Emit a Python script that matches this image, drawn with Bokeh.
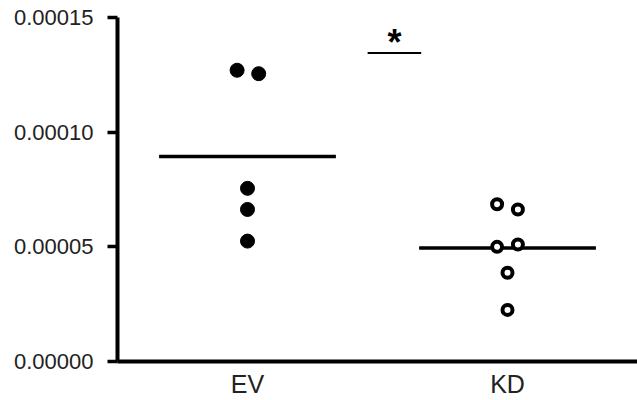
from bokeh.plotting import figure
from bokeh.models import FixedTicker, PrintfTickFormatter, ColumnDataSource
from bokeh.core.properties import value
from bokeh.embed import file_html
from bokeh.resources import INLINE

# ---- data ----
categories = ["EV", "KD"]
ev_values = [0.0001270, 0.0001255, 0.0000755, 0.0000663, 0.0000525]
ev_jitter = [-0.04, 0.043, 0.0, 0.0, 0.0]
kd_values = [0.0000686, 0.0000663, 0.0000500, 0.0000510, 0.0000387, 0.0000225]
kd_jitter = [-0.04, 0.04, -0.04, 0.04, 0.0, 0.0]
y_ticks = [0.0, 0.00005, 0.00010, 0.00015]
sig_bar_x = [1.462, 1.668]
sig_bar_y = 0.0001345
sig_label = "*"

ev_mean = sum(ev_values) / len(ev_values)
kd_mean = sum(kd_values) / len(kd_values)

FONT = "Liberation Sans"

p = figure(width=637, height=400, x_range=(0.5, 2.5), y_range=(0, 0.00015),
           output_backend="svg", toolbar_location=None,
           min_border_left=117, min_border_right=0, min_border_top=17, min_border_bottom=38)
p.outline_line_color = None
p.grid.grid_line_color = None
p.background_fill_color = "white"
p.border_fill_color = "white"

# axes
p.yaxis.ticker = FixedTicker(ticks=y_ticks)
p.yaxis.formatter = PrintfTickFormatter(format="%.5f")
p.xaxis.ticker = FixedTicker(ticks=[1, 2])
p.xaxis.major_label_overrides = {1: categories[0], 2: categories[1]}
for ax in (p.xaxis, p.yaxis):
    ax.axis_line_width = 4
    ax.axis_line_color = "black"
    ax.major_label_text_font = FONT
    ax.major_label_text_color = "#222222"
    ax.minor_tick_line_color = None
p.yaxis.major_label_text_font_size = "22px"
p.xaxis.major_label_text_font_size = "25px"
p.yaxis.major_tick_line_width = 3.5
p.yaxis.major_tick_out = 10
p.yaxis.major_tick_in = 0
p.yaxis.major_label_standoff = 14
p.xaxis.major_tick_line_color = None
p.xaxis.major_label_standoff = 2

# means
p.segment(x0=[1 - 0.34, 2 - 0.34], x1=[1 + 0.34, 2 + 0.34],
          y0=[ev_mean, kd_mean], y1=[ev_mean, kd_mean],
          line_color="black", line_width=3.5)

# points
ev_src = ColumnDataSource(dict(x=[1 + j for j in ev_jitter], y=ev_values))
kd_src = ColumnDataSource(dict(x=[2 + j for j in kd_jitter], y=kd_values))
p.scatter("x", "y", source=ev_src, size=14, fill_color="black", line_color="black", line_width=1)
p.scatter("x", "y", source=kd_src, size=10, fill_color="white", line_color="black", line_width=4)

# significance
p.segment(x0=[sig_bar_x[0]], x1=[sig_bar_x[1]], y0=[sig_bar_y], y1=[sig_bar_y],
          line_color="black", line_width=2)
p.text(x=[(sig_bar_x[0] + sig_bar_x[1]) / 2], y=[sig_bar_y], text=[sig_label],
       text_font=value(FONT), text_font_size="36px", text_font_style="bold",
       text_align="center", text_baseline="alphabetic", y_offset=-11, text_color="black")

open("out.html", "w").write(file_html(p, INLINE))
